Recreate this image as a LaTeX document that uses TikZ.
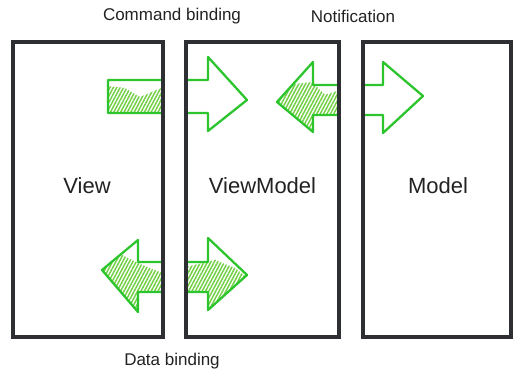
\documentclass[tikz,border=0pt]{standalone}
\usepackage{fontspec}
\setmainfont{Liberation Sans}
\usetikzlibrary{patterns.meta}
\definecolor{frame}{HTML}{2E2F33}
\definecolor{arrowgreen}{HTML}{2DC52D}
\definecolor{hatchgreen}{HTML}{72D046}
\definecolor{labeltext}{HTML}{222222}
\tikzset{
  layer/.style={draw=frame, line width=3.6pt, inner sep=0pt},
  layername/.style={text=labeltext, font=\fontsize{22}{24}\selectfont},
  caption/.style={text=labeltext, font=\fontsize{17}{20}\selectfont},
  fatarrow/.style={draw=arrowgreen, line width=2.3pt, line join=round},
  hatch/.style={pattern={Lines[angle=62, distance=3pt, line width=1.5pt]}, pattern color=hatchgreen},
  gapfill/.style={fill=white, draw=none}
}
\begin{document}
\begin{tikzpicture}[x=1pt, y=-1pt]
  \useasboundingbox (0,0) rectangle (513,371);
  \clip (0,0) rectangle (513,371);

  % hatched fills, each clipped to its arrow outline
  \begin{scope}
    \clip (108,80) -- (208,80) -- (208,57) -- (247,100) -- (208,131) -- (208,113) -- (108,113) -- cycle;
    \fill[hatch] (108,86) -- (125,88) -- (140,97) -- (152,92) -- (164,87) -- (164,120) -- (108,120) -- cycle;
  \end{scope}
  \begin{scope}
    \clip (277,102) -- (313,62) -- (313,85) -- (383,85) -- (383,62) -- (423,96) -- (383,133) -- (383,115) -- (313,115) -- (313,132) -- cycle;
    \fill[hatch] (280,94) -- (295,84) -- (312,82) -- (325,95) -- (340,90) -- (340,140) -- (270,140) -- cycle;
  \end{scope}
  \begin{scope}
    \clip (102,270) -- (138,240) -- (138,262) -- (208,262) -- (208,238) -- (247,275) -- (208,310) -- (208,292) -- (138,292) -- (138,312) -- cycle;
    \fill[hatch] (100,264) -- (120,254) -- (140,264) -- (165,274) -- (190,266) -- (215,260) -- (235,268) -- (250,280) -- (250,320) -- (100,320) -- cycle;
  \end{scope}

  % arrow outlines
  \coordinate (cmdTail) at (108,80);
  \draw[fatarrow] (cmdTail) -- (208,80) -- (208,57) -- (247,100) -- (208,131) -- (208,113) -- (108,113) -- cycle;
  \coordinate (notifyTip) at (277,102);
  \draw[fatarrow] (notifyTip) -- (313,62) -- (313,85) -- (383,85) -- (383,62) -- (423,96) -- (383,133) -- (383,115) -- (313,115) -- (313,132) -- cycle;
  \coordinate (dataTip) at (102,270);
  \draw[fatarrow] (dataTip) -- (138,240) -- (138,262) -- (208,262) -- (208,238) -- (247,275) -- (208,310) -- (208,292) -- (138,292) -- (138,312) -- cycle;

  % white gaps between the layers
  \fill[gapfill] (164,30) rectangle (185,345);
  \fill[gapfill] (340,30) rectangle (362,345);

  % the three layers
  \node[layer, minimum width=150pt, minimum height=295pt] (view) at (88,189.5) {};
  \node[layer, minimum width=153pt, minimum height=295pt] (vm) at (262.5,189.5) {};
  \node[layer, minimum width=148pt, minimum height=295pt] (model) at (437,189.5) {};

  \node[layername] (viewname) at (87,186) {View};
  \node[layername] (vmname) at (262.5,186) {ViewModel};
  \node[layername] (modelname) at (438,186) {Model};

  % binding captions
  \node[caption] (cmdcap) at (172,16) {Command binding};
  \node[caption] (notifycap) at (353,16) {Notification};
  \node[caption] (datacap) at (172,361) {Data binding};
\end{tikzpicture}
\end{document}
